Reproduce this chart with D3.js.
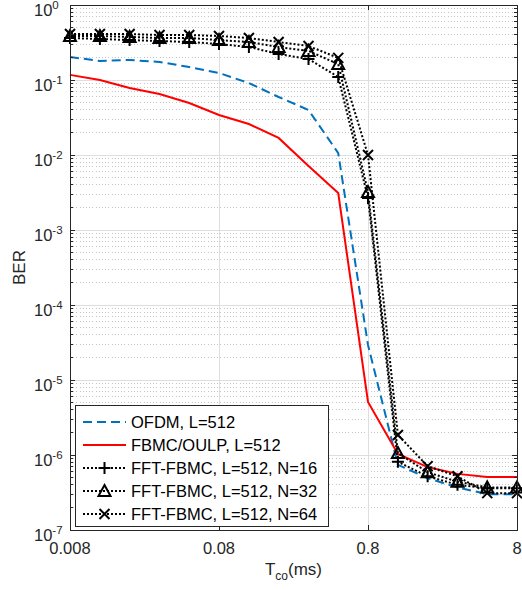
<!DOCTYPE html>
<html>
<head>
<meta charset="utf-8">
<script src="https://cdn.jsdelivr.net/npm/d3@7"></script>
<style>
  body { margin: 0; background: #fff; }
  svg { display: block; font-family: "Liberation Sans", Arial, sans-serif; }
</style>
</head>
<body>
<div id="chart"></div>
<script>
// T_co values (ms)
const tco = [0.008, 0.0127, 0.0201, 0.0319, 0.0505, 0.08, 0.127, 0.201, 0.319, 0.505, 0.8, 1.27, 2.01, 3.19, 5.05, 8];

const ofdm = [0.203, 0.179, 0.185, 0.174, 0.149, 0.124, 0.0912, 0.0593, 0.0398, 0.0106, 2.93e-5, 7.4e-7, 4.9e-7, 3.7e-7, 3.0e-7, 3.0e-7];
const fbmcOulp = [0.117, 0.1, 0.0782, 0.065, 0.0494, 0.0341, 0.0259, 0.0169, 0.00713, 0.00311, 5.1e-6, 1.03e-6, 6.9e-7, 5.6e-7, 5.1e-7, 5.1e-7];
const fftN16 = [0.363, 0.352, 0.341, 0.331, 0.321, 0.302, 0.275, 0.222, 0.19, 0.11, 0.00267, 8.1e-7, 5.2e-7, 4.0e-7, 3.6e-7, 3.6e-7];
const fftN32 = [0.386, 0.386, 0.375, 0.363, 0.363, 0.341, 0.321, 0.275, 0.244, 0.163, 0.00321, 1.06e-6, 5.9e-7, 4.4e-7, 3.7e-7, 3.7e-7];
const fftN64 = [0.41, 0.41, 0.41, 0.398, 0.398, 0.386, 0.363, 0.321, 0.284, 0.197, 0.01, 1.85e-6, 7.1e-7, 5.2e-7, 3.1e-7, 3.1e-7];

const xTicks = [0.008, 0.08, 0.8, 8];
const xTickLabels = ["0.008", "0.08", "0.8", "8"];
const yExponents = [0, -1, -2, -3, -4, -5, -6, -7];

const series = [
  { name: "OFDM, L=512", values: ofdm, color: "#0072BD", dash: "9,5", width: 2, marker: null },
  { name: "FBMC/OULP, L=512", values: fbmcOulp, color: "#FF0000", dash: null, width: 2, marker: null },
  { name: "FFT-FBMC, L=512, N=16", values: fftN16, color: "#000", dash: "2,2", width: 2, marker: "plus" },
  { name: "FFT-FBMC, L=512, N=32", values: fftN32, color: "#000", dash: "2,2", width: 2, marker: "triangle" },
  { name: "FFT-FBMC, L=512, N=64", values: fftN64, color: "#000", dash: "2,2", width: 2, marker: "cross" }
];

const width = 522, height = 590;
const margin = { left: 70, right: 5, top: 5, bottom: 60 };
const x0 = margin.left, x1 = width - margin.right;
const y0 = margin.top, y1 = height - margin.bottom;

const svg = d3.select("#chart").append("svg")
  .attr("width", width).attr("height", height);

const x = d3.scaleLog().domain([0.008, 8]).range([x0, x1]);
const y = d3.scaleLog().domain([1e-7, 1]).range([y1, y0]);

// minor y values
const minorY = [];
for (let e = -7; e < 0; e++) {
  for (let m = 2; m <= 9; m++) minorY.push(m * Math.pow(10, e));
}

const grid = svg.append("g");
grid.selectAll(".minor").data(minorY).join("line")
  .attr("x1", x0).attr("x2", x1)
  .attr("y1", d => y(d)).attr("y2", d => y(d))
  .attr("stroke", "#c4c4c4").attr("stroke-width", 1)
  .attr("stroke-dasharray", "1,2.2")
  .attr("shape-rendering", "crispEdges");
grid.selectAll(".majY").data(yExponents).join("line")
  .attr("x1", x0).attr("x2", x1)
  .attr("y1", d => y(Math.pow(10, d))).attr("y2", d => y(Math.pow(10, d)))
  .attr("stroke", "#dedede").attr("stroke-width", 1)
  .attr("shape-rendering", "crispEdges");
grid.selectAll(".majX").data(xTicks).join("line")
  .attr("x1", d => x(d)).attr("x2", d => x(d))
  .attr("y1", y0).attr("y2", y1)
  .attr("stroke", "#dedede").attr("stroke-width", 1)
  .attr("shape-rendering", "crispEdges");

// lines
const line = d3.line().x((d, i) => x(tco[i])).y(d => y(d));
const plot = svg.append("g");
series.forEach(s => {
  plot.append("path")
    .attr("d", line(s.values))
    .attr("fill", "none")
    .attr("stroke", s.color)
    .attr("stroke-width", s.width)
    .attr("stroke-dasharray", s.dash);
});

function markerPath(type) {
  if (type === "plus") return "M-6,0H6M0,-6V6";
  if (type === "triangle") return "M0,-6L6,5L-6,5Z";
  if (type === "cross") return "M-5,-5L5,5M-5,5L5,-5";
  return "";
}

series.filter(s => s.marker).forEach(s => {
  plot.append("g").selectAll("path").data(s.values).join("path")
    .attr("transform", (d, i) => `translate(${x(tco[i])},${y(d)})`)
    .attr("d", markerPath(s.marker))
    .attr("fill", "none")
    .attr("stroke", "#000")
    .attr("stroke-width", 2);
});

// axes box + ticks
const axis = svg.append("g").attr("stroke", "#262626").attr("stroke-width", 1)
  .attr("shape-rendering", "crispEdges");
axis.append("rect").attr("x", x0).attr("y", y0)
  .attr("width", x1 - x0).attr("height", y1 - y0).attr("fill", "none");
xTicks.forEach(t => {
  axis.append("line").attr("x1", x(t)).attr("x2", x(t)).attr("y1", y1).attr("y2", y1 - 5);
  axis.append("line").attr("x1", x(t)).attr("x2", x(t)).attr("y1", y0).attr("y2", y0 + 5);
});
yExponents.forEach(e => {
  const yy = y(Math.pow(10, e));
  axis.append("line").attr("x1", x0).attr("x2", x0 + 5).attr("y1", yy).attr("y2", yy);
  axis.append("line").attr("x1", x1).attr("x2", x1 - 5).attr("y1", yy).attr("y2", yy);
});
minorY.forEach(v => {
  const yy = y(v);
  axis.append("line").attr("x1", x0).attr("x2", x0 + 3).attr("y1", yy).attr("y2", yy);
  axis.append("line").attr("x1", x1).attr("x2", x1 - 3).attr("y1", yy).attr("y2", yy);
});

// tick labels
const tickFont = 16.5;
svg.append("g").selectAll("text").data(xTicks).join("text")
  .attr("x", d => x(d)).attr("y", y1 + 24)
  .attr("text-anchor", "middle")
  .attr("font-size", tickFont).attr("fill", "#262626")
  .text((d, i) => xTickLabels[i]);

const yl = svg.append("g").selectAll("text").data(yExponents).join("text")
  .attr("x", 34).attr("y", d => y(Math.pow(10, d)) + 11)
  .attr("font-size", tickFont).attr("fill", "#262626");
yl.append("tspan").text("10");
yl.append("tspan").attr("dy", -7).attr("font-size", 11.5).text(d => d);

// axis labels
svg.append("text")
  .attr("transform", `translate(25,${(y0 + y1) / 2}) rotate(-90)`)
  .attr("text-anchor", "middle").attr("font-size", 17).attr("fill", "#262626")
  .text("BER");
const xl = svg.append("text")
  .attr("x", (x0 + x1) / 2).attr("y", 575)
  .attr("text-anchor", "middle").attr("font-size", 17).attr("fill", "#262626");
xl.append("tspan").text("T");
xl.append("tspan").attr("dy", 5).attr("font-size", 12).text("co");
xl.append("tspan").attr("dy", -5).text("(ms)");

// legend
const lg = svg.append("g");
lg.append("rect").attr("x", 75.5).attr("y", 405.5).attr("width", 253).attr("height", 121)
  .attr("fill", "#fff").attr("stroke", "#262626").attr("stroke-width", 1);
series.forEach((s, i) => {
  const ly = 422 + i * 23;
  lg.append("line").attr("x1", 83).attr("x2", 126).attr("y1", ly).attr("y2", ly)
    .attr("stroke", s.color).attr("stroke-width", s.width)
    .attr("stroke-dasharray", s.dash);
  if (s.marker) {
    lg.append("path").attr("transform", `translate(104.5,${ly})`)
      .attr("d", markerPath(s.marker)).attr("fill", "none")
      .attr("stroke", "#000").attr("stroke-width", 2);
  }
  lg.append("text").attr("x", 131).attr("y", ly + 6)
    .attr("font-size", 16.5).attr("fill", "#000").text(s.name);
});
</script>
</body>
</html>
